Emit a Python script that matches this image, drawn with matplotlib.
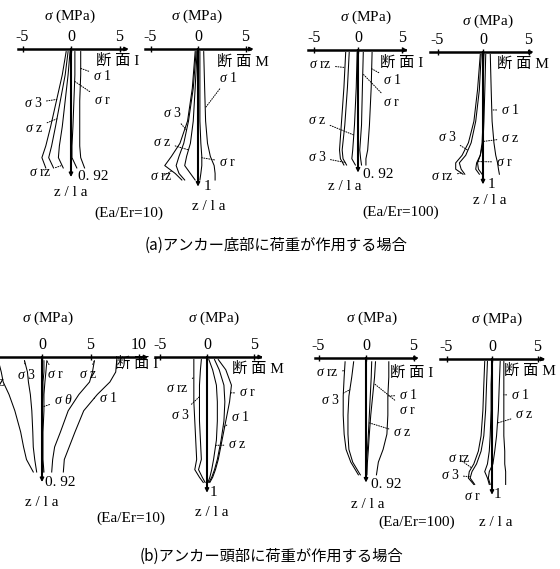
import matplotlib
matplotlib.use('Agg')
import matplotlib.pyplot as plt
import numpy as np

plt.rcParams['font.family'] = ['Liberation Serif', 'Noto Sans CJK JP']
plt.rcParams['mathtext.fontset'] = 'custom'
plt.rcParams['mathtext.rm'] = 'Liberation Serif'
plt.rcParams['mathtext.it'] = 'Liberation Serif:italic'
plt.rcParams['axes.unicode_minus'] = False

W, H = 560, 569

# ---------------- data (sigma in MPa vs z/la) ----------------
# (a) load at anchor bottom, Ea/Er=10, section I
a1_z = [0.02, 0.2, 0.4, 0.6, 0.75, 0.84, 0.92]
a1_s3 = [-0.5, -0.9, -1.5, -2.1, -2.6, -3.0, -2.6]
a1_sz = [-0.3, -0.6, -1.1, -1.6, -2.0, -2.3, -1.8]
a1_srz = [-0.1, -0.3, -0.6, -0.9, -1.2, -1.3, -0.8]
a1_sr = [0.4, 0.4, 0.3, 0.2, 0.1, 0.1, 0.6]
a1_s1 = [1.0, 1.0, 0.9, 0.9, 0.9, 1.0, 1.4]

# (a) Ea/Er=10, section M
a2_z = [0.02, 0.3, 0.55, 0.72, 0.82, 0.89, 0.95, 1.0]
a2_srz = [-0.3, -0.6, -1.1, -1.9, -2.8, -3.5, -2.4, -1.7]
a2_s3 = [-0.2, -0.5, -1.0, -1.5, -2.0, -2.3, -2.0, -1.4]
a2_sz = [-0.1, -0.3, -0.5, -0.8, -1.2, -1.4, -0.8, -0.3]
a2_sr = [0.2, 0.2, 0.2, 0.3, 0.4, 0.4, 0.3, 0.2]
a2_s1 = [0.6, 0.7, 0.8, 1.0, 1.3, 1.7, 1.8, 1.8]

# (a) Ea/Er=100, section I
a3_z = [0.02, 0.3, 0.6, 0.8, 0.87, 0.92]
a3_srz = [-1.4, -1.6, -1.9, -2.1, -2.0, -1.6]
a3_s3 = [-1.0, -1.2, -1.5, -1.8, -1.7, -1.3]
a3_sz = [-0.1, -0.2, -0.4, -0.6, -0.7, -0.3]
a3_sr = [0.6, 0.5, 0.4, 0.2, 0.3, 0.4]
a3_s1 = [1.6, 1.5, 1.3, 1.1, 0.9, 0.9]

# (a) Ea/Er=100, section M
a4_z = [0.02, 0.3, 0.55, 0.72, 0.82, 0.88, 0.93, 0.97]
a4_srz = [-0.3, -0.6, -1.0, -1.6, -2.3, -3.0, -3.0, -2.2]
a4_s3 = [-0.2, -0.4, -0.8, -1.3, -1.9, -2.6, -2.4, -2.0]
a4_sz = [0.3, 0.2, 0.1, 0.0, -0.3, -0.7, -0.8, -0.4]
a4_sr = [0.1, 0.0, 0.0, -0.1, -0.3, -0.6, -0.5, -0.1]
a4_s1 = [0.8, 0.9, 1.0, 1.2, 1.4, 1.6, 1.7, 1.8]

# (b) load at anchor head, Ea/Er=10, section I
b1_z = [0.03, 0.12, 0.2, 0.3, 0.43, 0.6, 0.72, 0.82, 0.92]
b1_s1 = [7.7, 7.6, 7.0, 5.7, 4.3, 3.4, 2.8, 2.3, 2.2]
b1_sz = [5.4, 5.2, 4.9, 3.8, 2.7, 1.9, 1.3, 1.1, 1.0]
b1_sr = [0.5, 0.4, 0.3, 0.2, 0.2, 0.1, 0.1, 0.1, 0.2]
b1_sth = [0.2, 0.2, 0.1, 0.1, 0.0, 0.0, 0.0, 0.0, 0.1]
b1_s3 = [-1.8, -1.5, -1.4, -1.2, -1.05, -0.95, -0.9, -0.75, -0.55]
b1_srz = [-4.5, -4.2, -4.0, -3.4, -2.8, -2.2, -1.9, -1.6, -0.9]

# (b) Ea/Er=10, section M
b2_z = [0.02, 0.1, 0.22, 0.35, 0.5, 0.65, 0.8, 0.88, 0.94, 0.98]
b2_srz = [-1.4, -1.4, -1.4, -1.4, -1.3, -1.2, -1.1, -1.3, -0.8, -0.4]
b2_s3 = [-0.6, -0.7, -0.8, -0.8, -0.8, -0.7, -0.6, -0.9, -0.5, -0.2]
b2_sr = [1.2, 2.0, 2.6, 2.4, 2.0, 1.6, 1.2, 0.9, 0.6, 0.3]
b2_s1 = [0.8, 1.3, 1.8, 1.9, 1.8, 1.5, 1.1, 0.8, 0.5, 0.2]
b2_sz = [0.2, 0.6, 1.0, 1.1, 1.1, 1.0, 0.7, 0.5, 0.3, 0.1]

# (b) Ea/Er=100, section I
b3_z = [0.03, 0.15, 0.3, 0.45, 0.6, 0.72, 0.82, 0.92]
b3_srz = [-2.2, -2.3, -2.4, -2.4, -2.3, -2.1, -1.6, -0.8]
b3_s3 = [-1.3, -1.5, -1.8, -1.9, -1.9, -1.8, -1.4, -0.6]
b3_s1 = [2.4, 2.4, 2.3, 2.3, 2.2, 1.8, 1.3, 1.1]
b3_sr = [1.0, 0.9, 0.7, 0.5, 0.35, 0.25, 0.15, 0.1]
b3_sz = [0.6, 0.55, 0.45, 0.35, 0.25, 0.15, 0.05, 0.0]

# (b) Ea/Er=100, section M
b4_z = [0.02, 0.2, 0.4, 0.6, 0.72, 0.82, 0.88, 0.93, 0.98]
b4_srz = [-0.8, -0.9, -1.0, -1.2, -1.5, -2.0, -2.5, -2.6, -2.0]
b4_s3 = [-0.5, -0.6, -0.7, -0.9, -1.2, -1.7, -2.2, -2.4, -1.9]
b4_sr = [0.0, -0.1, -0.1, -0.2, -0.3, -0.5, -0.8, -0.5, -0.3]
b4_sz = [0.9, 0.8, 0.7, 0.5, 0.3, 0.1, -0.3, -0.4, -0.2]
b4_s1 = [1.3, 1.3, 1.3, 1.3, 1.4, 1.4, 1.5, 1.5, 1.5]

ticks_std = [-5, 0, 5]
ticks_b1 = [-5, 0, 5, 10]

S1, S3, SR, SZ, SRZ, STH = (r'$\sigma$ 1', r'$\sigma$ 3', r'$\sigma$ r',
                            r'$\sigma$ z', r'$\sigma$ rz', r'$\sigma$ $\theta$')

fig = plt.figure(figsize=(W / 100, H / 100), dpi=100)

XMIN, XMAX, ZMIN, ZMAX = -12, 12, -0.5, 1.3


def make_axes(g):
    left = g['x0'] + XMIN * g['s']
    width = (XMAX - XMIN) * g['s']
    top = g['ytop'] + ZMIN * g['zpx']
    height = (ZMAX - ZMIN) * g['zpx']
    ax = fig.add_axes([left / W, 1 - (top + height) / H, width / W, height / H])
    ax.set_xlim(XMIN, XMAX)
    ax.set_ylim(ZMAX, ZMIN)
    ax.patch.set_visible(False)
    for side in ('right', 'bottom'):
        ax.spines[side].set_visible(False)
    ax.spines['top'].set_position(('data', 0))
    ax.spines['top'].set_bounds(g['xl'], g['xr'])
    ax.spines['top'].set_linewidth(1.8)
    ax.spines['left'].set_position(('data', 0))
    ax.spines['left'].set_bounds(0, g['zb'])
    ax.spines['left'].set_linewidth(1.5)
    ax.xaxis.set_ticks_position('top')
    ax.set_xticks(g['ticks'])
    ax.set_xticklabels([str(t) for t in g['ticks']])
    ax.tick_params(axis='x', direction='inout', length=4, width=1,
                   labelsize=11.5, pad=1)
    ax.set_yticks([])
    ap = dict(arrowstyle='-|>', color='k', lw=1, mutation_scale=6,
              shrinkA=0, shrinkB=0)
    ax.annotate('', xy=(g['xr'] + 0.35, 0), xytext=(g['xr'] - 0.2, 0),
                arrowprops=ap, annotation_clip=False)
    ax.annotate('', xy=(0, g['zb'] + 0.03), xytext=(0, g['zb'] - 0.02),
                arrowprops=ap, annotation_clip=False)
    return ax


def ftext(x, y, s, **kw):
    kw.setdefault('ha', 'center')
    kw.setdefault('va', 'center')
    kw.setdefault('fontsize', 11)
    fig.text(x / W, 1 - y / H, s, **kw)


def add_panel(g, z, series, labels, texts):
    ax = make_axes(g)
    for key, vals in series.items():
        ax.plot(vals, z, color='k', lw=0.75)
    for text, key, zt, lx, ly in labels:
        if key is None:
            ftext(lx, ly, text, fontsize=10)
            continue
        xt = np.interp(zt, z, series[key])
        ax.annotate(text, xy=(xt, zt), xycoords='data',
                    xytext=(lx, H - ly), textcoords='figure pixels',
                    ha='center', va='center', fontsize=10,
                    arrowprops=dict(arrowstyle='-', linestyle=(0, (1, 1.5)),
                                    lw=0.7, color='k', shrinkA=1, shrinkB=0),
                    annotation_clip=False)
    for (x, y, s, kw) in texts:
        ftext(x, y, s, **kw)
    return ax


# ---------------- panel (a) ----------------
add_panel(dict(x0=71, s=9.7, ytop=49, zpx=129.3, xl=-5.5, xr=5.6, zb=0.96, ticks=ticks_std),
          a1_z, {'s3': a1_s3, 'sz': a1_sz, 'srz': a1_srz, 'sr': a1_sr, 's1': a1_s1},
          [(S1, 's1', 0.15, 102, 76), (SR, 'sr', 0.25, 102, 100),
           (S3, 's3', 0.39, 33, 103), (SZ, 'sz', 0.54, 34, 128),
           (SRZ, 'srz', 0.9, 40, 173)],
          [(70, 16, r'$\sigma$ (MPa)', {}), (78, 177, '0. 92', dict(ha='left')),
           (71, 193, 'z / l a', {}), (118, 61, '断 面 I', {})])

add_panel(dict(x0=198, s=9.5, ytop=49, zpx=131, xl=-5.6, xr=5.5, zb=1.02, ticks=ticks_std),
          a2_z, {'srz': a2_srz, 's3': a2_s3, 'sz': a2_sz, 'sr': a2_sr, 's1': a2_s1},
          [(S1, 's1', 0.45, 228, 78), (S3, 's3', 0.62, 172, 113),
           (SZ, 'sz', 0.77, 162, 142), (SR, 'sr', 0.83, 227, 162),
           (SRZ, 'srz', 0.93, 161, 177)],
          [(197, 16, r'$\sigma$ (MPa)', {}), (204, 187, '1', dict(ha='left')),
           (209, 207, 'z / l a', {}), (243, 62, '断 面 M', {})])

add_panel(dict(x0=358, s=8.8, ytop=50, zpx=125, xl=-5.7, xr=5.3, zb=0.95, ticks=ticks_std),
          a3_z, {'srz': a3_srz, 's3': a3_s3, 'sz': a3_sz, 'sr': a3_sr, 's1': a3_s1},
          [(SRZ, 'srz', 0.14, 320, 65), (S1, 's1', 0.15, 392, 80),
           (SR, 'sr', 0.19, 391, 103), (SZ, 'sz', 0.68, 317, 120),
           (S3, 's3', 0.9, 317, 157)],
          [(366, 17, r'$\sigma$ (MPa)', {}), (363, 174, '0. 92', dict(ha='left')),
           (345, 186, 'z / l a', {}), (402, 63, '断 面 I', {})])

add_panel(dict(x0=483, s=9.1, ytop=52, zpx=126, xl=-5.8, xr=5.2, zb=1.02, ticks=ticks_std),
          a4_z, {'srz': a4_srz, 's3': a4_s3, 'sz': a4_sz, 'sr': a4_sr, 's1': a4_s1},
          [(S1, 's1', 0.46, 510, 110), (SZ, 'sz', 0.71, 510, 138),
           (SR, 'sr', 0.87, 504, 162), (S3, 's3', 0.78, 447, 137),
           (SRZ, 'srz', 0.96, 442, 177)],
          [(488, 21, r'$\sigma$ (MPa)', {}), (488, 185, '1', dict(ha='left')),
           (490, 201, 'z / l a', {}), (523, 64, '断 面 M', {})])

ftext(129, 213, '(Ea/Er=10)')
ftext(401, 212, '(Ea/Er=100)')
ftext(276, 245, '(a)アンカー底部に荷重が作用する場合', fontsize=11,
      family=['Noto Sans CJK JP', 'DejaVu Sans'])

# ---------------- panel (b) ----------------
add_panel(dict(x0=42, s=9.7, ytop=357, zpx=125, xl=-5.0, xr=10.6, zb=0.97, ticks=ticks_b1),
          b1_z, {'s1': b1_s1, 'sz': b1_sz, 'sr': b1_sr, 'sth': b1_sth,
                 's3': b1_s3, 'srz': b1_srz},
          [(SRZ, 'srz', 0.05, -6, 383), (S3, 's3', 0.03, 26, 375),
           (SR, 'sr', 0.03, 55, 375), (SZ, 'sz', 0.03, 88, 375),
           (STH, 'sth', 0.4, 63, 400), (S1, 's1', 0.33, 108, 398)],
          [(48, 318, r'$\sigma$ (MPa)', {}), (45, 483, '0. 92', dict(ha='left')),
           (42, 502, 'z / l a', {}), (137, 364, '断 面 I', {})])

add_panel(dict(x0=207, s=9.4, ytop=357, zpx=128, xl=-5.5, xr=5.6, zb=1.03, ticks=ticks_std),
          b2_z, {'srz': b2_srz, 's3': b2_s3, 'sr': b2_sr, 's1': b2_s1, 'sz': b2_sz},
          [(SRZ, 'srz', 0.16, 177, 388), (S3, 's3', 0.31, 180, 415),
           (SR, 'sr', 0.28, 247, 393), (S1, 's1', 0.55, 240, 417),
           (SZ, 'sz', 0.69, 237, 445)],
          [(214, 318, r'$\sigma$ (MPa)', {}), (210, 493, '1', dict(ha='left')),
           (212, 513, 'z / l a', {}), (258, 369, '断 面 M', {})])

add_panel(dict(x0=366, s=9.5, ytop=358, zpx=127, xl=-5.4, xr=5.2, zb=0.95, ticks=ticks_std),
          b3_z, {'srz': b3_srz, 's3': b3_s3, 's1': b3_s1, 'sr': b3_sr, 'sz': b3_sz},
          [(SRZ, 'srz', 0.1, 327, 372), (S3, 's3', 0.25, 330, 400),
           (S1, 's1', 0.3, 408, 395), (SR, 'sr', 0.2, 407, 410),
           (SZ, 'sz', 0.51, 402, 433)],
          [(372, 318, r'$\sigma$ (MPa)', {}), (371, 485, '0. 92', dict(ha='left')),
           (368, 505, 'z / l a', {}), (412, 373, '断 面 I', {})])

add_panel(dict(x0=492, s=9.1, ytop=359, zpx=128, xl=-5.7, xr=5.5, zb=1.03, ticks=ticks_std),
          b4_z, {'srz': b4_srz, 's3': b4_s3, 'sr': b4_sr, 'sz': b4_sz, 's1': b4_s1},
          [(S1, 's1', 0.28, 520, 395), (SZ, 'sz', 0.5, 524, 415),
           (SRZ, 'srz', 0.85, 459, 459), (S3, 's3', 0.92, 450, 475),
           (SR, None, 0, 472, 497)],
          [(497, 319, r'$\sigma$ (MPa)', {}), (494, 494, '1', dict(ha='left')),
           (496, 522, 'z / l a', {}), (530, 371, '断 面 M', {})])

ftext(131, 518, '(Ea/Er=10)')
ftext(417, 522, '(Ea/Er=100)')
ftext(271, 556, '(b)アンカー頭部に荷重が作用する場合', fontsize=11,
      family=['Noto Sans CJK JP', 'DejaVu Sans'])

fig.savefig('out.png', dpi=100, facecolor='white')
